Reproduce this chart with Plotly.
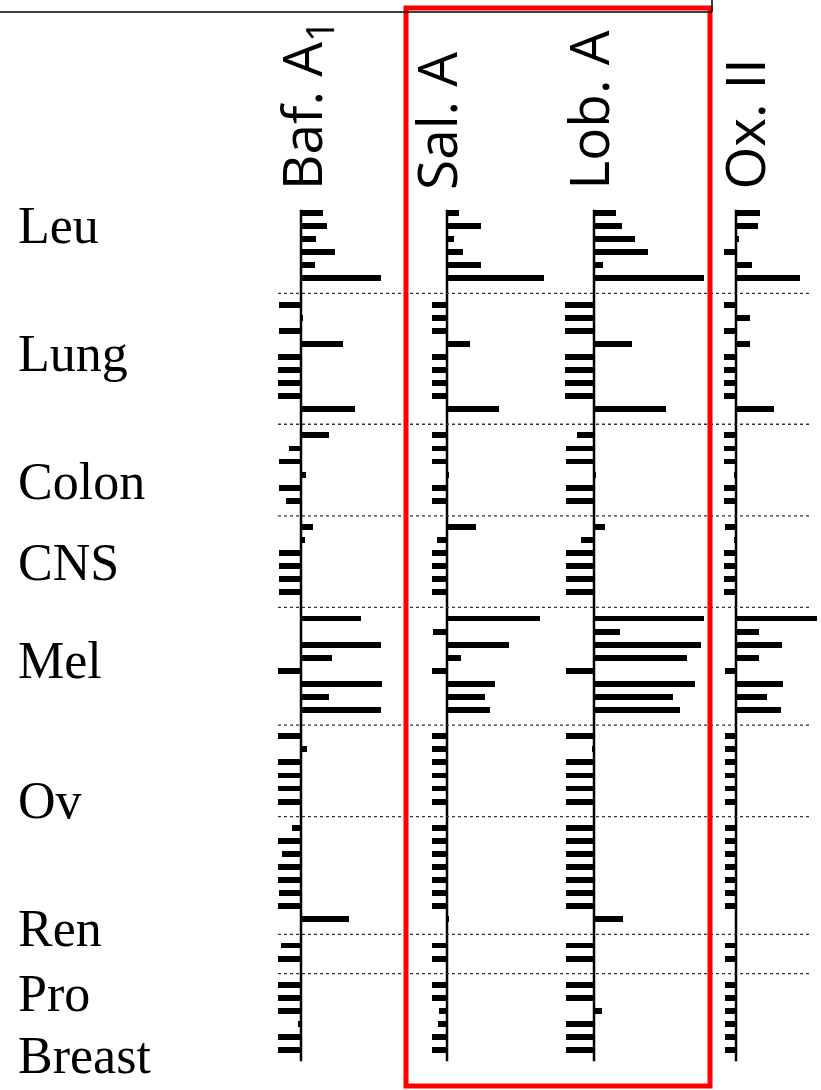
import plotly.graph_objects as go

# ---------------- data (delta log GI50 units) ----------------
groups = ["Leu", "Lung", "Colon", "CNS", "Mel", "Ov", "Ren", "Pro", "Breast"]
group_sizes = [6, 9, 6, 6, 8, 6, 8, 2, 6]
compounds = ["Baf. A<sub>1</sub>", "Sal. A", "Lob. A", "Ox. II"]

baf_a1 = [0.55, 0.65, 0.38, 0.85, 0.35, 2.00,
          -0.55, 0.03, -0.55, 1.05, -0.58, -0.58, -0.58, -0.58, 1.35,
          0.70, -0.30, -0.55, 0.13, -0.55, -0.38,
          0.30, 0.10, -0.55, -0.55, -0.55, -0.55,
          1.50, 0.00, 2.00, 0.78, -0.58, 2.03, 0.70, 2.00,
          -0.58, 0.15, -0.58, -0.58, -0.58, -0.58,
          -0.23, -0.58, -0.48, -0.58, -0.58, -0.55, -0.58, 1.20,
          -0.50, -0.58,
          -0.58, -0.58, -0.58, -0.08, -0.58, -0.58]

sal_a = [0.30, 0.85, 0.18, 0.40, 0.85, 2.43,
         -0.38, -0.38, -0.38, 0.58, -0.38, -0.38, -0.38, -0.38, 1.30,
         -0.38, -0.38, -0.38, 0.03, -0.38, -0.38,
         0.73, -0.25, -0.38, -0.38, -0.38, -0.38,
         2.33, -0.35, 1.55, 0.35, -0.38, 1.20, 0.95, 1.08,
         -0.38, -0.38, -0.38, -0.38, -0.38, -0.38,
         -0.38, -0.38, -0.38, -0.38, -0.38, -0.38, -0.38, 0.03,
         -0.38, -0.38,
         -0.38, -0.38, -0.20, -0.23, -0.38, -0.38]

lob_a = [0.55, 0.70, 1.03, 1.35, 0.23, 2.83,
         -0.72, -0.72, -0.72, 0.95, -0.72, -0.72, -0.72, -0.72, 1.80,
         -0.43, -0.70, -0.70, 0.05, -0.70, -0.70,
         0.28, -0.33, -0.70, -0.70, -0.70, -0.70,
         2.82, 0.65, 2.68, 2.33, -0.70, 2.53, 1.98, 2.15,
         -0.70, -0.05, -0.70, -0.70, -0.70, -0.70,
         -0.70, -0.70, -0.70, -0.70, -0.70, -0.70, -0.70, 0.73,
         -0.70, -0.70,
         -0.70, -0.70, 0.20, -0.70, -0.70, -0.70]

ox_ii = [0.60, 0.55, 0.08, -0.30, 0.40, 1.60,
         -0.30, 0.35, -0.30, 0.35, -0.30, -0.30, -0.30, -0.30, 0.95,
         -0.30, -0.30, -0.30, -0.05, -0.30, -0.30,
         -0.28, -0.05, -0.30, -0.30, -0.30, -0.30,
         2.03, 0.58, 1.15, 0.58, -0.28, 1.18, 0.78, 1.13,
         -0.28, -0.28, -0.28, -0.28, -0.28, -0.28,
         -0.28, -0.28, -0.28, -0.28, -0.28, -0.28, -0.28, 0.00,
         -0.28, -0.28,
         -0.28, -0.28, -0.28, -0.28, -0.28, -0.28]

series = [baf_a1, sal_a, lob_a, ox_ii]

# ---------------- layout constants ----------------
W, H = 821, 1090
FIRST_ROW_PX = 213.0
ROW_PX = 13.08
PX_PER_UNIT = 40.0
baseline_px = [301, 447, 594, 736]
left_ext_px = [32, 32, 38, 32]
right_ext_px = [92, 106, 121, 85]
header_cx_px = [304, 435, 587, 743]
header_bottom_px = 192
label_y_px = [226, 353, 481, 563, 660, 800, 928, 993, 1055]


def px_x(p):
    return p / W


def px_y(p):
    return 1 - p / H


# slot positions: one slot per cell line, one blank slot for each separator
row_slots, sep_slots = [], []
s = 0
for gi, n in enumerate(group_sizes):
    for _ in range(n):
        row_slots.append(s)
        s += 1
    if gi < len(group_sizes) - 1:
        sep_slots.append(s)
        s += 1
last_slot = s - 1


def slot_of(p):
    return (p - FIRST_ROW_PX) / ROW_PX


fig = go.Figure()
shapes = []
annotations = []

for k, vals in enumerate(series):
    ax = "x" if k == 0 else f"x{k + 1}"
    fig.add_trace(go.Bar(
        x=vals, y=row_slots, orientation="h", xaxis=ax, yaxis="y",
        marker=dict(color="black", line=dict(width=0)), width=0.45,
        hoverinfo="x+y", showlegend=False,
    ))
    b = baseline_px[k]
    dom = [px_x(b - left_ext_px[k]), px_x(b + right_ext_px[k])]
    axis = dict(domain=dom, range=[-left_ext_px[k] / PX_PER_UNIT, right_ext_px[k] / PX_PER_UNIT],
                visible=False, showgrid=False, zeroline=False, anchor="y", fixedrange=True)
    fig.layout["xaxis" if k == 0 else f"xaxis{k + 1}"] = axis
    # vertical baseline
    shapes.append(dict(type="line", xref=ax, yref="y", x0=0, x1=0,
                       y0=-0.25, y1=last_slot + 0.85,
                       line=dict(color="black", width=2.5)))
    # header
    annotations.append(dict(text=compounds[k], x=px_x(header_cx_px[k]), y=px_y(header_bottom_px),
                            xref="paper", yref="paper", xanchor="center", yanchor="bottom",
                            textangle=-90, showarrow=False,
                            font=dict(family="Open Sans", size=55, color="black")))

# dotted separators
for sp in sep_slots:
    shapes.append(dict(type="line", xref="paper", yref="y", x0=px_x(278), x1=px_x(812),
                       y0=sp + 0.15, y1=sp + 0.15,
                       line=dict(color="#333333", width=1.3, dash="dot")))

# tissue labels
for g, yp in zip(groups, label_y_px):
    annotations.append(dict(text=g, x=px_x(16), y=px_y(yp), xref="paper", yref="paper",
                            xanchor="left", yanchor="middle", showarrow=False,
                            font=dict(family="Liberation Serif", size=52, color="black")))

# red highlight box
shapes.append(dict(type="rect", xref="paper", yref="paper",
                   x0=px_x(406), x1=px_x(710), y0=px_y(1086), y1=px_y(8),
                   line=dict(color="#ff0000", width=5), fillcolor="rgba(0,0,0,0)"))
# top black frame fragment
shapes.append(dict(type="line", xref="paper", yref="paper", x0=0, x1=px_x(712),
                   y0=px_y(12), y1=px_y(12), line=dict(color="black", width=1.5)))
shapes.append(dict(type="line", xref="paper", yref="paper", x0=px_x(712), x1=px_x(712),
                   y0=px_y(0), y1=px_y(12), line=dict(color="black", width=1.5)))

fig.update_layout(
    width=W, height=H, margin=dict(l=0, r=0, t=0, b=0),
    paper_bgcolor="white", plot_bgcolor="white",
    yaxis=dict(domain=[0, 1], range=[slot_of(H), slot_of(0)], visible=False,
               showgrid=False, zeroline=False, fixedrange=True),
    shapes=shapes, annotations=annotations, bargap=0, showlegend=False,
)

fig.write_html("out.html", config={"displayModeBar": False},
               post_script="document.body.style.margin='0px';document.body.style.overflow='hidden';")
